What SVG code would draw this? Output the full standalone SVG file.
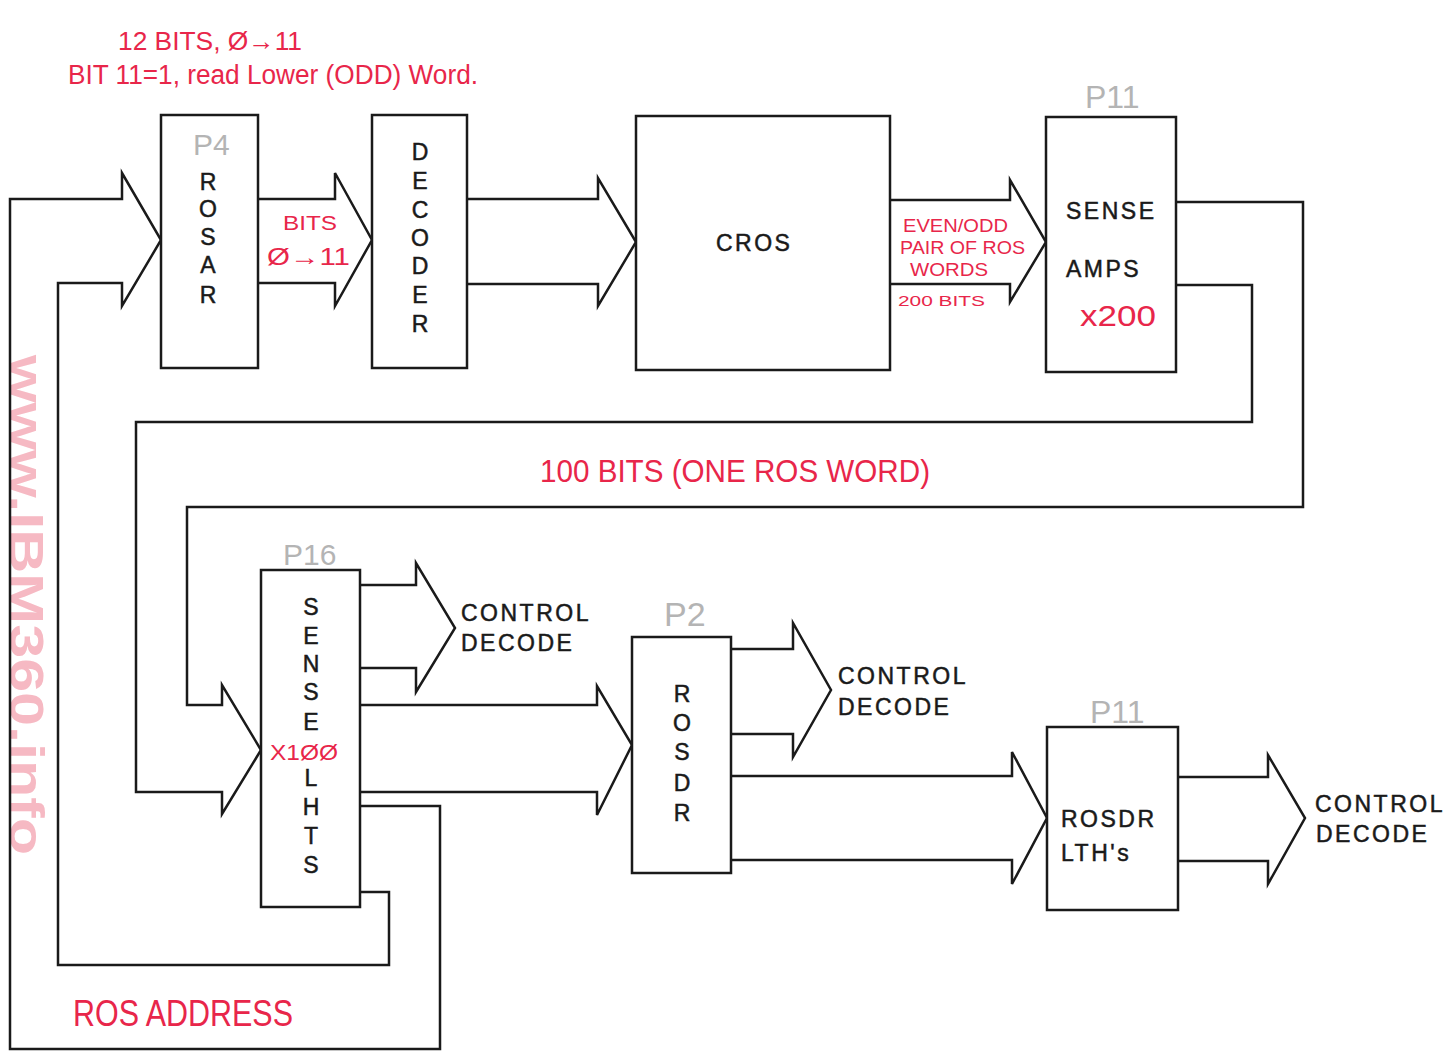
<svg xmlns="http://www.w3.org/2000/svg" width="1452" height="1052" viewBox="0 0 1452 1052">
<style>
.box{fill:#fff;stroke:#1a1a1a;stroke-width:2.5}
.ln{fill:none;stroke:#1a1a1a;stroke-width:2.5;stroke-linejoin:miter}
.t{font-family:"Liberation Sans",Arial,sans-serif;font-size:23px;fill:#1a1a1a;stroke:#1a1a1a;stroke-width:0.5;letter-spacing:2.5px}
.v{font-family:"Liberation Sans",Arial,sans-serif;font-size:23px;fill:#1a1a1a;stroke:#1a1a1a;stroke-width:0.5;text-anchor:middle}
.r{font-family:"Liberation Sans",Arial,sans-serif;fill:#e8264a}
.g{font-family:"Liberation Sans",Arial,sans-serif;fill:#b4b4b4;font-weight:300}
</style>
<rect width="1452" height="1052" fill="#fff"/>
<text transform="translate(10,355) rotate(90)" font-family="Liberation Sans,Arial,sans-serif" font-weight="bold" font-size="48" fill="#f6b9c3" textLength="500" lengthAdjust="spacingAndGlyphs">www.IBM360.info</text>

<g id="connectors">
<path class="ln" d="M360 806 H440 V1049 H10 V199 H122 V173 L161 240 L122 306 V283 H58 V965 H389 V892 H360"/>
<path class="ln" d="M1176 202 H1303 V507 H187 V705 H222 V685 L261 750 L222 814 V792 H136 V422 H1252 V285 H1176"/>
<path class="ln" d="M258 199 H335 V173 L372 240 L335 306 V283 H258"/>
<path class="ln" d="M467 199 H598 V178 L636 242 L598 306 V284 H467"/>
<path class="ln" d="M890 200 H1010 V180 L1046 242 L1010 302 V284 H890"/>
<path class="ln" d="M360 585 H416 V563 L455 628 L416 692 V668 H360"/>
<path class="ln" d="M360 705 H597 V686 L632 745 L597 815 V792 H360"/>
<path class="ln" d="M731 649 H793 V623 L831 690 L793 757 V734 H731"/>
<path class="ln" d="M731 776 H1012 V752 L1047 818 L1012 884 V860 H731"/>
<path class="ln" d="M1178 777 H1268 V755 L1305 818 L1268 884 V861 H1178"/>
</g>

<g id="rosar">
<rect class="box" x="161" y="115" width="97" height="253"/>
<text class="v" x="208" y="190">R</text><text class="v" x="208" y="217">O</text><text class="v" x="208" y="245">S</text><text class="v" x="208" y="273">A</text><text class="v" x="208" y="303">R</text>
<text class="g" x="193" y="155" font-size="30">P4</text>
</g>
<g id="decoder">
<rect class="box" x="372" y="115" width="95" height="253"/>
<text class="v" x="420" y="160">D</text><text class="v" x="420" y="189">E</text><text class="v" x="420" y="218">C</text><text class="v" x="420" y="246">O</text><text class="v" x="420" y="274">D</text><text class="v" x="420" y="303">E</text><text class="v" x="420" y="332">R</text>
</g>
<g id="cros">
<rect class="box" x="636" y="116" width="254" height="254"/>
<text class="t" x="716" y="251" letter-spacing="4">CROS</text>
</g>
<g id="senseamps">
<rect class="box" x="1046" y="117" width="130" height="255"/>
<text class="t" x="1066" y="219">SENSE</text>
<text class="t" x="1066" y="277">AMPS</text>
<text class="r" x="1080" y="326" font-size="30" textLength="76" lengthAdjust="spacingAndGlyphs">x200</text>
<text class="g" x="1085" y="108" font-size="32">P11</text>
</g>
<g id="senselths">
<rect class="box" x="261" y="570" width="99" height="337"/>
<text class="v" x="311" y="615">S</text><text class="v" x="311" y="644">E</text><text class="v" x="311" y="672">N</text><text class="v" x="311" y="700">S</text><text class="v" x="311" y="730">E</text>
<text class="v" x="311" y="786">L</text><text class="v" x="311" y="815">H</text><text class="v" x="311" y="844">T</text><text class="v" x="311" y="873">S</text>
<text class="r" x="270" y="760" font-size="22" textLength="68" lengthAdjust="spacingAndGlyphs">X1ØØ</text>
<text class="g" x="283" y="565" font-size="30">P16</text>
</g>
<g id="rosdr">
<rect class="box" x="632" y="637" width="99" height="236"/>
<text class="v" x="682" y="702">R</text><text class="v" x="682" y="731">O</text><text class="v" x="682" y="760">S</text><text class="v" x="682" y="791">D</text><text class="v" x="682" y="821">R</text>
<text class="g" x="664" y="626" font-size="34">P2</text>
</g>
<g id="rosdrlths">
<rect class="box" x="1047" y="727" width="131" height="183"/>
<text class="t" x="1061" y="827" letter-spacing="1.5">ROSDR</text>
<text class="t" x="1061" y="861" letter-spacing="1.5">LTH's</text>
<text class="g" x="1090" y="723" font-size="32">P11</text>
</g>

<g id="labels">
<text class="t" x="461" y="621">CONTROL</text><text class="t" x="461" y="651">DECODE</text>
<text class="t" x="838" y="684">CONTROL</text><text class="t" x="838" y="715">DECODE</text>
<text class="t" x="1315" y="812">CONTROL</text><text class="t" x="1316" y="842">DECODE</text>
<text class="r" x="118" y="50" font-size="26" textLength="184" lengthAdjust="spacingAndGlyphs">12 BITS, Ø→11</text>
<text class="r" x="68" y="84" font-size="27" textLength="410" lengthAdjust="spacingAndGlyphs">BIT 11=1, read Lower (ODD) Word.</text>
<text class="r" x="283" y="230" font-size="21" textLength="54" lengthAdjust="spacingAndGlyphs">BITS</text>
<text class="r" x="267" y="265" font-size="24" textLength="83" lengthAdjust="spacingAndGlyphs">Ø→11</text>
<text class="r" x="903" y="232" font-size="19" textLength="105" lengthAdjust="spacingAndGlyphs">EVEN/ODD</text>
<text class="r" x="900" y="254" font-size="18" textLength="125" lengthAdjust="spacingAndGlyphs">PAIR OF ROS</text>
<text class="r" x="910" y="276" font-size="19" textLength="78" lengthAdjust="spacingAndGlyphs">WORDS</text>
<text class="r" x="898" y="306" font-size="15" textLength="87" lengthAdjust="spacingAndGlyphs">200 BITS</text>
<text class="r" x="540" y="482" font-size="32" textLength="390" lengthAdjust="spacingAndGlyphs">100 BITS (ONE ROS WORD)</text>
<text class="r" x="73" y="1026" font-size="36" textLength="220" lengthAdjust="spacingAndGlyphs">ROS ADDRESS</text>
</g>
</svg>
